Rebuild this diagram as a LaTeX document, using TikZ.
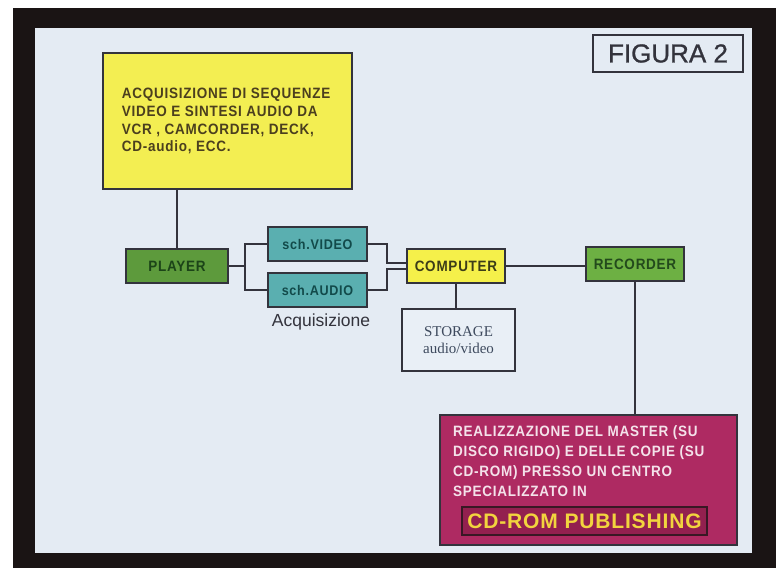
\documentclass[tikz,border=0pt]{standalone}
\usepackage{fontspec}
\setmainfont{Liberation Sans}
\newfontfamily\cond{Liberation Sans}[FakeStretch=0.9,LetterSpace=5]
\newfontfamily\serf{Liberation Serif}
\usetikzlibrary{positioning}
\definecolor{panel}{HTML}{E4EBF3}
\definecolor{frame}{HTML}{1A1414}
\definecolor{ybox}{HTML}{F3EE52}
\definecolor{ytext}{HTML}{4B3F1E}
\definecolor{pgreen}{HTML}{5D9A3C}
\definecolor{ptext}{HTML}{1C4418}
\definecolor{rgreen}{HTML}{6DB043}
\definecolor{rtext}{HTML}{234A1C}
\definecolor{teal1}{HTML}{5AAFB0}
\definecolor{ttext}{HTML}{124A4A}
\definecolor{cyel}{HTML}{F5F04A}
\definecolor{ctext}{HTML}{3C3C18}
\definecolor{sfill}{HTML}{E9EFF6}
\definecolor{stext}{HTML}{3E4A5E}
\definecolor{mag}{HTML}{AE2A62}
\definecolor{mtext}{HTML}{F4E2EA}
\definecolor{cdfill}{HTML}{93204F}
\definecolor{cdtext}{HTML}{F2D43E}
\definecolor{ink}{HTML}{33333C}
\tikzset{
  box/.style={draw=ink, line width=1.6pt, inner sep=0pt, outer sep=0pt},
  smallbox/.style={box, minimum width=#1, minimum height=34pt, font=\cond\bfseries\fontsize{15}{17}\selectfont},
  conn/.style={draw=ink, line width=1.4pt},
}
\begin{document}
\begin{tikzpicture}[x=1pt,y=-1pt]
\useasboundingbox (0,0) rectangle (776,568);
\fill[white] (0,0) rectangle (776,568);
\fill[frame] (13,8) rectangle (776,568);
\fill[panel] (35,28) rectangle (752,553);

% nodes
\node[box, fill=ybox, minimum width=249pt, minimum height=136pt] (acq) at (227.5,121) {};
\node[anchor=north west, inner sep=0pt, align=left, text=ytext,
      font=\cond\bfseries\fontsize{15}{17.7}\selectfont] (acqtxt) at (121.7,88)
  {ACQUISIZIONE DI SEQUENZE\\VIDEO E SINTESI AUDIO DA\\VCR , CAMCORDER, DECK,\\CD-audio, ECC.};

\node[smallbox=102pt, fill=pgreen, text=ptext] (player) at (177,266) {PLAYER};
\node[smallbox=99pt, fill=teal1, text=ttext, font=\cond\bfseries\fontsize{14}{16}\selectfont] (video) at (317.5,244) {sch.VIDEO};
\node[smallbox=99pt, fill=teal1, text=ttext, font=\cond\bfseries\fontsize{14}{16}\selectfont] (audio) at (317.5,290) {sch.AUDIO};
\node[inner sep=0pt, text=ink, font=\fontsize{17.5}{20}\selectfont] (acqlab) at (321,322) {Acquisizione};
\node[smallbox=98pt, fill=cyel, text=ctext] (computer) at (456,266) {COMPUTER};
\node[box, fill=sfill, minimum width=113pt, minimum height=62pt, align=center, text=stext,
      font=\serf\fontsize{15}{17}\selectfont] (storage) at (458.5,340) {STORAGE\\audio/video};
\node[smallbox=98pt, fill=rgreen, text=rtext] (recorder) at (635,264) {RECORDER};

\node[box, fill=mag, minimum width=297pt, minimum height=130pt] (master) at (588.5,480) {};
\node[anchor=north west, inner sep=0pt, align=left, text=mtext,
      font=\cond\bfseries\fontsize{15}{20}\selectfont] (mastertxt) at (453,425.5)
  {REALIZZAZIONE DEL MASTER (SU\\DISCO RIGIDO) E DELLE COPIE (SU\\CD-ROM) PRESSO UN CENTRO\\SPECIALIZZATO IN};
\node[draw=frame!80!mag, line width=1.6pt, fill=cdfill, minimum width=245pt, minimum height=28pt,
      inner sep=0pt, text=cdtext, font=\bfseries\addfontfeature{LetterSpace=4}\fontsize{21}{24}\selectfont] (cdrom) at (584.5,521) {CD-ROM PUBLISHING};

\node[draw=ink, line width=1.6pt, fill=panel, minimum width=150pt, minimum height=37pt, inner sep=0pt,
      text=ink, font=\addfontfeature{FakeBold=1}\fontsize{26}{28}\selectfont] (figura) at (668,53.5) {FIGURA 2};

% connectors
\coordinate (j1) at (245,266);
\coordinate (jv) at (387,263);
\coordinate (ja) at (387,269);
\draw[conn] (player.north) -- (player.north |- acq.south);
\draw[conn] (player.east) -- (j1);
\draw[conn] (video.west) -| (j1) |- (audio.west);
\draw[conn] (video.east) -| (jv) -- (jv -| computer.west);
\draw[conn] (audio.east) -| (ja) -- (ja -| computer.west);
\draw[conn] (computer.east) -- (computer.east -| recorder.west);
\draw[conn] (computer.south) -- (computer.south |- storage.north);
\draw[conn] (recorder.south) -- (recorder.south |- master.north);
\end{tikzpicture}
\end{document}
